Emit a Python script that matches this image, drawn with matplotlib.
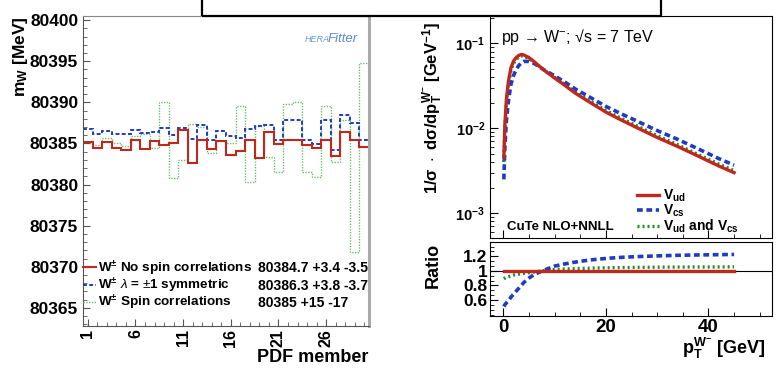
import matplotlib
matplotlib.use('Agg')
import matplotlib.pyplot as plt
import numpy as np
from matplotlib.lines import Line2D
from matplotlib.patches import Rectangle
from matplotlib.ticker import MultipleLocator, FixedLocator, LogLocator, NullFormatter, AutoMinorLocator

plt.rcParams['font.family'] = ['Liberation Sans', 'DejaVu Sans']
plt.rcParams['mathtext.fontset'] = 'custom'
plt.rcParams['mathtext.rm'] = 'Liberation Sans'
plt.rcParams['mathtext.it'] = 'Liberation Sans:italic'
plt.rcParams['mathtext.bf'] = 'Liberation Sans:bold'

# ---- left panel: m_W per PDF member ----
members = np.arange(1, 31)
mw_nospin = [80385.16, 80384.4, 80385.16, 80384.4, 80384.2, 80385.4, 80384.3, 80385.3, 80384.76, 80385.0,
             80386.6, 80382.6, 80385.4, 80384.27, 80385.28, 80383.6, 80384.07, 80385.4, 80383.27, 80386.37,
             80384.96, 80385.4, 80385.48, 80384.76, 80384.4, 80385.4, 80383.47, 80386.37, 80385.4, 80384.6]
mw_sym = [80386.7, 80386.1, 80386.5, 80386.17, 80386.17, 80386.6, 80386.3, 80386.4, 80386.85, 80385.97,
          80386.85, 80385.6, 80387.3, 80385.48, 80386.49, 80385.89, 80385.64, 80386.77, 80387.1, 80387.2,
          80385.36, 80387.86, 80387.86, 80385.36, 80384.96, 80387.86, 80384.2, 80388.5, 80387.5, 80385.4]
mw_spin = [80385.0, 80384.8, 80385.7, 80385.0, 80384.7, 80385.9, 80386.1, 80384.4, 80390.0, 80380.77,
           80382.94, 80387.38, 80386.98, 80383.8, 80385.3, 80385.0, 80389.6, 80380.36, 80387.1, 80383.35,
           80381.53, 80389.8, 80390.04, 80381.53, 80380.97, 80389.6, 80382.74, 80387.8, 80371.78, 80394.76]
leg_names = ['W$^{\\mathbf{\\pm}}$ No spin correlations',
             'W$^{\\mathbf{\\pm}}$ $\\lambda$ = $\\pm$1 symmetric',
             'W$^{\\mathbf{\\pm}}$ Spin correlations']
leg_values = ['80384.7 +3.4 -3.5', '80386.3 +3.8 -3.7', '80385 +15 -17']

# ---- right panel: normalised pT spectrum ----
pt = [0.1, 0.3, 0.6, 1.0, 1.5, 2.0, 2.5, 3.0, 3.5, 4.0, 5.0, 6.0, 7.0, 8.0, 10, 12, 14, 17, 20, 23, 26, 30, 34, 38, 42, 45]
xs_ud = [0.0045, 0.011, 0.022, 0.036, 0.052, 0.062, 0.068, 0.072, 0.074, 0.073, 0.068, 0.061, 0.054, 0.048,
         0.039, 0.032, 0.026, 0.020, 0.0155, 0.0125, 0.0102, 0.0078, 0.0061, 0.0047, 0.0036, 0.0030]
xs_cs = [0.0025, 0.0059, 0.0123, 0.0212, 0.0333, 0.042, 0.049, 0.0547, 0.059, 0.0613, 0.0612, 0.058, 0.053, 0.0485,
         0.0415, 0.035, 0.0291, 0.023, 0.0181, 0.0148, 0.0122, 0.0094, 0.0074, 0.00572, 0.0044, 0.00368]
xs_both = [0.0040, 0.0099, 0.020, 0.0331, 0.0485, 0.0584, 0.0646, 0.0688, 0.0710, 0.0704, 0.0663, 0.0601, 0.0537, 0.0481,
           0.0397, 0.0328, 0.0268, 0.0207, 0.0162, 0.0131, 0.0107, 0.0082, 0.0064, 0.0049, 0.0038, 0.00317]
ratio_ud = [1.0] * len(pt)
ratio_cs = [0.51, 0.535, 0.56, 0.59, 0.64, 0.68, 0.72, 0.76, 0.80, 0.84, 0.90, 0.95, 0.98, 1.01,
            1.065, 1.095, 1.12, 1.15, 1.17, 1.185, 1.195, 1.205, 1.213, 1.218, 1.222, 1.225]
ratio_both = [0.89, 0.90, 0.91, 0.92, 0.932, 0.942, 0.95, 0.955, 0.96, 0.965, 0.975, 0.985, 0.995, 1.003,
              1.018, 1.025, 1.03, 1.037, 1.042, 1.045, 1.048, 1.05, 1.052, 1.053, 1.054, 1.055]

red = '#c0281e'
blue = '#1e3cc0'
green_l = '#6cbf6c'
green_r = '#1f8f2a'

fig = plt.figure(figsize=(7.79, 3.68), dpi=100)
W, H = 779.0, 368.0

# left axes
ax1 = fig.add_axes([83 / W, 1 - 326 / H, 286 / W, 310 / H])
edges = np.append(members - 0.5, members[-1] + 0.5)
ax1.stairs(mw_spin, edges, color=green_l, lw=1.0, ls=(0, (1, 1)), baseline=None)
ax1.stairs(mw_sym, edges, color=blue, lw=1.4, ls=(0, (2, 1.2)), baseline=None)
ax1.stairs(mw_nospin, edges, color=red, lw=1.5, baseline=None)
ax1.set_xlim(0.5, 30.5)
ax1.set_ylim(80362.8, 80400.5)
ax1.xaxis.set_major_locator(FixedLocator([1, 6, 11, 16, 21, 26]))
ax1.xaxis.set_minor_locator(MultipleLocator(1))
ax1.yaxis.set_major_locator(MultipleLocator(5))
ax1.yaxis.set_minor_locator(MultipleLocator(1))
ax1.tick_params(which='both', direction='in', color='#555555')
ax1.tick_params(which='major', length=5)
ax1.tick_params(which='minor', length=3)
ax1.tick_params(axis='x', which='major', length=5, labelrotation=90, pad=2)
for lab in ax1.get_yticklabels():
    lab.set_fontweight('bold')
    lab.set_fontsize(12.5)
for lab in ax1.get_xticklabels():
    lab.set_fontweight('bold')
    lab.set_fontsize(11.5)
ax1.ticklabel_format(axis='y', useOffset=False)
ax1.spines['left'].set_color('#555555')
ax1.spines['bottom'].set_color('#555555')
ax1.spines['top'].set_color('#888888')
ax1.spines['top'].set_linewidth(0.8)
ax1.spines['right'].set_color('#aaaaaa')
ax1.spines['right'].set_linewidth(2.2)

fig.text(21 / W, 1 - 16 / H, '$\\mathbf{m_{W}}$ [MeV]', rotation=90, ha='center', va='top',
         fontsize=12.5, fontweight='bold')
fig.text(368 / W, 1 - 358 / H, 'PDF member', ha='right', va='center', fontsize=13, fontweight='bold')

ax1.text(0.776, 0.915, 'HERA', style='italic', color='#6a9ad8', fontsize=6.5, transform=ax1.transAxes)
ax1.text(0.856, 0.915, 'Fitter', style='italic', color='#5a8ad0', fontsize=9.5, transform=ax1.transAxes)

handles = [Line2D([], [], color=red, lw=1.5),
           Line2D([], [], color=blue, lw=1.4, ls=(0, (2, 1.2))),
           Line2D([], [], color=green_l, lw=1.0, ls=(0, (1, 1)))]
leg = ax1.legend(handles, leg_names, loc='lower left', bbox_to_anchor=(0.0, 0.045), frameon=False,
                 handlelength=1.0, handletextpad=0.15, labelspacing=-0.08, borderpad=0, borderaxespad=0,
                 prop={'weight': 'bold', 'size': 9.7})
fig.canvas.draw()
inv = ax1.transAxes.inverted()
for t, v in zip(leg.get_texts(), leg_values):
    bb = t.get_window_extent()
    yc = inv.transform((0, (bb.y0 + bb.y1) / 2))[1]
    ax1.text((258 - 83) / 286, yc, v, va='center', ha='left', fontsize=10, fontweight='bold',
             transform=ax1.transAxes)

# right top axes
ax2 = fig.add_axes([490 / W, 1 - 238 / H, 282 / W, 222 / H])
ax2.plot(pt, xs_both, color=green_r, lw=2.4, ls=(0, (0.6, 0.9)))
ax2.plot(pt, xs_cs, color=blue, lw=2.6, ls=(0, (1.6, 1.0)))
ax2.plot(pt, xs_ud, color=red, lw=2.4)
ax2.set_yscale('log')
ax2.set_ylim(5.1e-4, 0.21)
ax2.set_xlim(-2.6, 52.4)
ax2.xaxis.set_major_locator(MultipleLocator(20))
ax2.xaxis.set_minor_locator(MultipleLocator(5))
ax2.xaxis.set_major_formatter(NullFormatter())
ax2.yaxis.set_major_locator(FixedLocator([1e-3, 1e-2, 1e-1]))
ax2.yaxis.set_minor_locator(LogLocator(subs=np.arange(2, 10)))
ax2.yaxis.set_minor_formatter(NullFormatter())
ax2.set_yticklabels(['$\\mathbf{10^{-3}}$', '$\\mathbf{10^{-2}}$', '$\\mathbf{10^{-1}}$'], fontsize=10.5)
ax2.tick_params(which='both', direction='in')
ax2.tick_params(which='major', length=6)
ax2.tick_params(which='minor', length=3)
ax2.text(0.04, 0.905, 'pp \u2192 W$^{-}$; \u221As = 7 TeV', transform=ax2.transAxes,
         fontsize=11.5, va='center')
ax2.text(0.06, 0.05, 'CuTe NLO+NNLL', transform=ax2.transAxes, fontsize=9.5, fontweight='bold', va='center')
h2 = [Line2D([], [], color=red, lw=2.4),
      Line2D([], [], color=blue, lw=2.6, ls=(0, (1.6, 1.0))),
      Line2D([], [], color=green_r, lw=2.4, ls=(0, (0.6, 0.9)))]
ax2.legend(h2, ['$\\mathbf{V_{ud}}$', '$\\mathbf{V_{cs}}$', '$\\mathbf{V_{ud}}$ and $\\mathbf{V_{cs}}$'],
           loc='lower left', bbox_to_anchor=(0.52, 0.012), frameon=False, handlelength=1.6,
           handletextpad=0.3, labelspacing=-0.1, borderpad=0, borderaxespad=0,
           prop={'weight': 'bold', 'size': 10})
fig.text(433 / W, 1 - 22 / H, '$\\mathbf{1/\\sigma\\ \\cdot\\ d\\sigma/dp_{T}^{W^{-}}\\ [GeV^{-1}]}$',
         rotation=90, ha='center', va='top', fontsize=12)

# ratio axes
ax3 = fig.add_axes([490 / W, 1 - 316 / H, 282 / W, 74.3 / H])
ax3.axhline(1.0, color='black', lw=0.8)
ax3.plot(pt, ratio_both, color=green_r, lw=2.4, ls=(0, (0.6, 0.9)))
ax3.plot(pt, ratio_cs, color=blue, lw=2.6, ls=(0, (1.6, 1.0)))
ax3.plot(pt, ratio_ud, color=red, lw=2.4)
ax3.set_xlim(-2.6, 52.4)
ax3.set_ylim(0.38, 1.40)
ax3.xaxis.set_major_locator(MultipleLocator(20))
ax3.xaxis.set_minor_locator(MultipleLocator(5))
ax3.yaxis.set_major_locator(FixedLocator([0.6, 0.8, 1.0, 1.2]))
ax3.yaxis.set_minor_locator(AutoMinorLocator(3))
ax3.set_yticklabels(['0.6', '0.8', '1', '1.2'], fontsize=12.5, fontweight='bold')
ax3.tick_params(which='both', direction='in')
ax3.tick_params(which='major', length=6)
ax3.tick_params(which='minor', length=3)
ax3.tick_params(axis='y', pad=2)
ax3.tick_params(axis='x', pad=2)
for lab in ax3.get_xticklabels():
    lab.set_fontweight('bold')
    lab.set_fontsize(13.5)
fig.text(433 / W, 1 - 243 / H, 'Ratio', rotation=90, ha='center', va='top', fontsize=13, fontweight='bold')
fig.text(765 / W, 1 - 348 / H, '$\\mathbf{p_{T}^{W^{-}}}$ [GeV]', ha='right', va='center',
         fontsize=13, fontweight='bold')

# title box cut at the top edge
fig.patches.append(Rectangle((202 / W, 1 - 16 / H), (661 - 202) / W, 0.2, transform=fig.transFigure,
                             fill=False, ec='black', lw=1.6, figure=fig))

fig.savefig('out.png', dpi=100)
